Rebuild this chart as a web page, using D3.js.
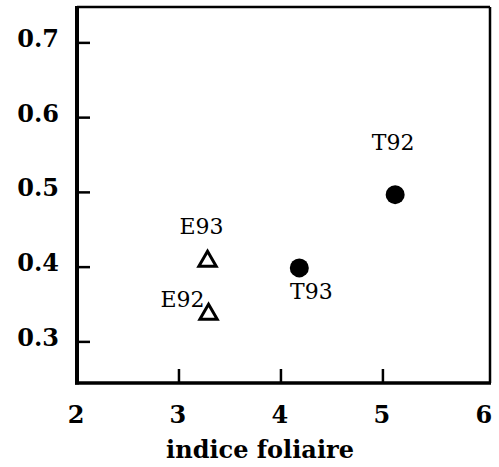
<!DOCTYPE html>
<html>
<head>
	<meta charset=utf-8>
	<title>indice foliaire</title>
	<script src="https://d3js.org/d3.v7.min.js"></script>
	<style type="text/css">
		body{
			margin: 0;
			background: #fff;
		}
		.tick-label{
			font-family: "DejaVu Serif", serif;
			font-weight: bold;
			font-size: 24px;
		}
		.pt-label{
			font-family: "DejaVu Serif", serif;
			font-size: 22px;
		}
	</style>
</head>
<body>
	<svg id="chart" width="499" height="467"></svg>

	<script type="text/javascript">
		// values
		const names = ['E92', 'E93', 'T93', 'T92'];
		const leafIndex = [3.29, 3.28, 4.18, 5.12];
		const yValues = [0.337, 0.408, 0.399, 0.497];
		const kinds = ['open', 'open', 'filled', 'filled'];
		const xTicks = [2, 3, 4, 5, 6];
		const yTicks = [0.3, 0.4, 0.5, 0.6, 0.7];
		const xTitle = 'indice foliaire';

		// where each label sits against its point
		const labelPlace = {
			E92: {dx: -4, dy: -7, anchor: 'end'},
			E93: {dx: -6, dy: -27, anchor: 'middle'},
			T93: {dx: 12, dy: 31, anchor: 'middle'},
			T92: {dx: -2, dy: -45, anchor: 'middle'}
		};

		const svg = d3.select('#chart');

		const x = d3.scaleLinear()
			.domain([2, 6.05])
			.range([77, 490]);

		const y = d3.scaleLinear()
			.domain([0.245, 0.748])
			.range([383, 7]);

		const [x0, x1] = x.range();
		const [y0, y1] = y.range();

		// frame
		svg.append('line').attr('x1', x0).attr('x2', x1).attr('y1', y1).attr('y2', y1)
			.attr('stroke', '#000').attr('stroke-width', 2.5);
		svg.append('line').attr('x1', x1).attr('x2', x1).attr('y1', y1).attr('y2', y0)
			.attr('stroke', '#000').attr('stroke-width', 2.5);
		svg.append('line').attr('x1', x0 - 2).attr('x2', x1 + 1).attr('y1', y0).attr('y2', y0)
			.attr('stroke', '#000').attr('stroke-width', 3.5);
		svg.append('line').attr('x1', x0).attr('x2', x0).attr('y1', y1 - 1).attr('y2', y0 + 1.5)
			.attr('stroke', '#000').attr('stroke-width', 4);

		// y axis ticks + labels
		const yAxis = svg.append('g');
		yAxis.selectAll('line')
			.data(yTicks)
			.enter()
			.append('line')
			.attr('x1', x0)
			.attr('x2', x0 + 13)
			.attr('y1', d => y(d))
			.attr('y2', d => y(d))
			.attr('stroke', '#000')
			.attr('stroke-width', 2.5);
		yAxis.selectAll('text')
			.data(yTicks)
			.enter()
			.append('text')
			.attr('class', 'tick-label')
			.attr('x', 59)
			.attr('y', d => y(d) + 4)
			.attr('text-anchor', 'end')
			.text(d => d3.format('.1f')(d));

		// x axis ticks + labels
		const xAxis = svg.append('g');
		xAxis.selectAll('line')
			.data(xTicks.filter(d => d > 2 && d < 6))
			.enter()
			.append('line')
			.attr('x1', d => x(d))
			.attr('x2', d => x(d))
			.attr('y1', y0)
			.attr('y2', y0 - 14)
			.attr('stroke', '#000')
			.attr('stroke-width', 2.5);
		xAxis.selectAll('text')
			.data(xTicks)
			.enter()
			.append('text')
			.attr('class', 'tick-label')
			.attr('x', d => x(d) - 1)
			.attr('y', 423)
			.attr('text-anchor', 'middle')
			.text(d => d);

		svg.append('text')
			.attr('class', 'tick-label')
			.attr('x', 260)
			.attr('y', 458)
			.attr('text-anchor', 'middle')
			.text(xTitle);

		// points
		const pts = names.map((n, i) => ({name: n, lai: leafIndex[i], val: yValues[i], kind: kinds[i]}));

		const tri = d3.symbol().type(d3.symbolTriangle).size(130);

		svg.append('g')
			.selectAll('path')
			.data(pts.filter(d => d.kind === 'open'))
			.enter()
			.append('path')
			.attr('d', tri)
			.attr('transform', d => `translate(${x(d.lai)}, ${y(d.val)})`)
			.attr('fill', 'none')
			.attr('stroke', '#000')
			.attr('stroke-width', 3)
			.attr('stroke-linejoin', 'miter');

		svg.append('g')
			.selectAll('circle')
			.data(pts.filter(d => d.kind === 'filled'))
			.enter()
			.append('circle')
			.attr('cx', d => x(d.lai))
			.attr('cy', d => y(d.val))
			.attr('r', 9.5)
			.attr('fill', '#000');

		svg.append('g')
			.selectAll('text')
			.data(pts)
			.enter()
			.append('text')
			.attr('class', 'pt-label')
			.attr('x', d => x(d.lai) + labelPlace[d.name].dx)
			.attr('y', d => y(d.val) + labelPlace[d.name].dy)
			.attr('text-anchor', d => labelPlace[d.name].anchor)
			.text(d => d.name);
	</script>
</body>
</html>
